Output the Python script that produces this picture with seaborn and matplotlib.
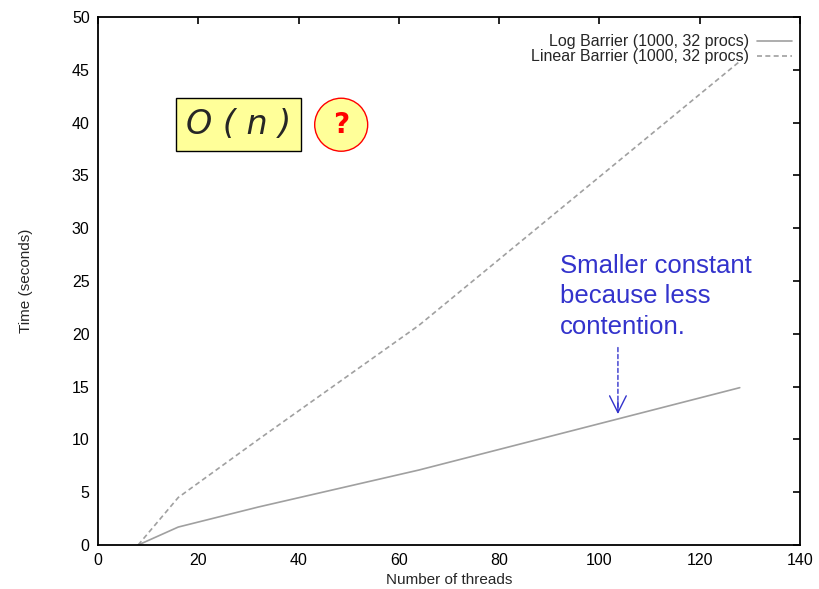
import pandas as pd
import matplotlib.pyplot as plt
import seaborn as sns

# Data
threads = [8, 16, 32, 64, 128]
log_barrier = [0.0, 1.7, 3.6, 7.1, 14.9]
linear_barrier = [0.0, 4.5, 10.0, 20.8, 45.8]
series_names = ['Log Barrier (1000, 32 procs)', 'Linear Barrier (1000, 32 procs)']

x_ticks = [0, 20, 40, 60, 80, 100, 120, 140]
y_ticks = [0, 5, 10, 15, 20, 25, 30, 35, 40, 45, 50]

df = pd.DataFrame({
    'Threads': threads + threads,
    'Time': log_barrier + linear_barrier,
    'Series': [series_names[0]] * len(threads) + [series_names[1]] * len(threads),
})

sns.set_style('white')
plt.rcParams['font.family'] = ['Liberation Sans', 'DejaVu Sans']

fig = plt.figure(figsize=(8.19, 5.89), dpi=100)
ax = fig.add_axes([0.1197, 0.0747, 0.857, 0.8964])

sns.lineplot(data=df, x='Threads', y='Time', hue='Series', style='Series',
             palette=['#a0a0a0', '#a0a0a0'],
             dashes={series_names[0]: '', series_names[1]: (3, 2)},
             linewidth=1.2, ax=ax)

ax.set_xlim(0, 140)
ax.set_ylim(0, 50)
ax.set_xticks(x_ticks)
ax.set_yticks(y_ticks)
ax.tick_params(direction='in', length=5, width=1.2, top=True, right=True,
               labeltop=False, labelright=False, labelsize=11.5, pad=6, colors='black')
for s in ax.spines.values():
    s.set_color('black')
    s.set_linewidth(1.3)

ax.set_xlabel('Number of threads', fontsize=11, labelpad=3)
ax.set_ylabel('Time (seconds)', fontsize=11, labelpad=28)

handles, labels = ax.get_legend_handles_labels()
leg = ax.legend(handles, labels, loc='upper right', bbox_to_anchor=(1.006, 0.99),
                frameon=False, markerfirst=False,
                fontsize=11.5, handlelength=2.2, handletextpad=0.5, labelspacing=0.0,
                borderaxespad=0.35)
leg._legend_handle_box.get_children()[0].align = 'right'

# Annotations
ax.text(28.0, 39.8, 'O ( n )', fontsize=24, style='italic', family='DejaVu Sans',
        ha='center', va='center',
        bbox=dict(boxstyle='square,pad=0.3', fc='#ffff99', ec='black', lw=1))
ax.text(48.5, 39.8, '?', fontsize=20, fontweight='bold', color='red',
        ha='center', va='center', family='DejaVu Sans',
        bbox=dict(boxstyle='circle,pad=0.45', fc='#ffff99', ec='red', lw=1))

ax.text(92.2, 27.6, 'Smaller constant\nbecause less\ncontention.', fontsize=18.5,
        color='#3333cc', ha='left', va='top', linespacing=1.35)
ax.annotate('', xy=(103.7, 12.6), xytext=(103.7, 18.7),
            arrowprops=dict(arrowstyle='-', color='#3333cc', lw=1, ls=(0, (3, 2)),
                            shrinkA=0, shrinkB=0))
ax.annotate('', xy=(103.7, 12.4), xytext=(103.7, 13.6),
            arrowprops=dict(arrowstyle='->,head_length=0.6,head_width=0.3',
                            color='#3333cc', lw=1, mutation_scale=20,
                            shrinkA=0, shrinkB=0))

fig.savefig('out.png', dpi=100)
